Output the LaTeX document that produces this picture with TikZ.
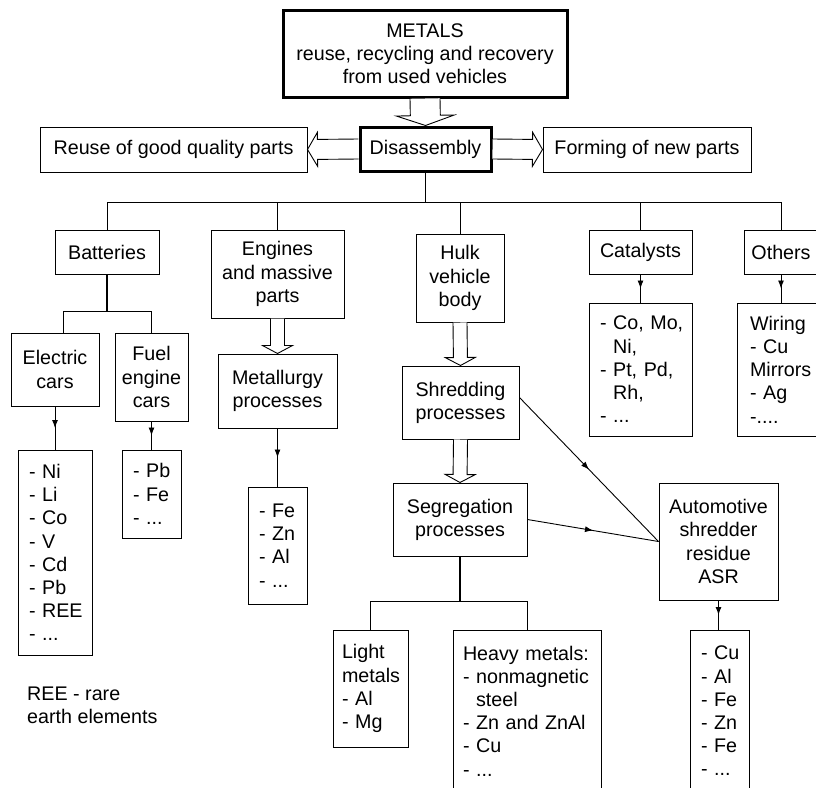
\documentclass[tikz,border=0pt]{standalone}
\usepackage{fontspec}
\setmainfont{Liberation Sans}
\usetikzlibrary{arrows.meta, calc, decorations.markings}
\exhyphenpenalty=10000
\hyphenpenalty=10000

% hollow block arrow: from, to, half shaft, half head, head length
\newcommand{\fatarrow}[5]{%
  \coordinate (fas) at (#1);
  \coordinate (fae) at (#2);
  \coordinate (fab) at ($(fae)!#5pt!(fas)$);
  \draw[fill=white, line width=0.9pt] ($(fas)!#3pt!90:(fae)$) -- ($(fab)!#3pt!-90:(fas)$)
    -- ($(fab)!#4pt!-90:(fas)$) -- (fae) -- ($(fab)!#4pt!90:(fas)$)
    -- ($(fab)!#3pt!90:(fas)$) -- ($(fas)!#3pt!-90:(fae)$);
}

\begin{document}
\begin{tikzpicture}[x=1pt, y=-1pt,
  every node/.style={font=\fontsize{19.7}{23.2}\selectfont},
  box/.style={draw, line width=1pt, align=center, inner sep=0pt},
  thickbox/.style={box, line width=3pt},
  listbox/.style={draw, line width=1pt, align=left, inner xsep=11pt, inner ysep=0pt},
  link/.style={line width=0.9pt},
  stem/.style={line width=1.8pt},
  midarrow/.style={link, postaction={decorate},
    decoration={markings, mark=at position 0.5 with {\arrow{Latex[length=8pt, width=6pt]}}}}]
  \path[use as bounding box, fill=white] (0,0) rectangle (816,787);

  % top
  \node[thickbox, minimum width=284pt, minimum height=87pt] (metals) at (425,53.5) {METALS\\reuse, recycling and recovery\\from used vehicles};
  \node[thickbox, minimum width=131pt, minimum height=44pt] (dis) at (425.5,149) {Disassembly};
  \node[box, minimum width=267pt, minimum height=45pt] (reuse) at (173.5,149.5) {Reuse of good quality parts};
  \node[box, minimum width=208pt, minimum height=45pt] (form) at (647,149.5) {Forming of new parts};

  % main branches
  \node[box, minimum width=104pt, minimum height=44pt] (bat) at (107,252) {Batteries};
  \node[box, minimum width=133pt, minimum height=88pt] (eng) at (277.5,274) {Engines\\and massive\\parts};
  \node[box, minimum width=88pt, minimum height=88pt] (hulk) at (460,278) {Hulk\\vehicle\\body};
  \node[box, minimum width=103pt, minimum height=44pt] (cat) at (640.5,252) {Catalysts};
  \node[box, minimum width=74pt, minimum height=44pt] (oth) at (781,252) {Others};

  \node[listbox, text width=81pt, minimum height=133pt] (catlist) at (640.5,369.5) {\mbox{-}~Co,~Mo,\\\phantom{-~}Ni,\\\mbox{-}~Pt,~Pd,\\\phantom{-~}Rh,\\\mbox{-}~...};
  \node[listbox, inner xsep=13pt, text width=67pt, minimum height=133pt] (othlist) at (783.5,369.5) {Wiring\\\mbox{-}~Cu\\Mirrors\\\mbox{-}~Ag\\-....};

  % batteries
  \node[box, minimum width=88pt, minimum height=73pt] (elec) at (55,369.5) {Electric\\cars};
  \node[box, minimum width=73pt, minimum height=88pt] (fuel) at (151.5,377) {Fuel\\engine\\cars};
  \node[listbox, text width=52pt, minimum height=205pt] (eleclist) at (55,552.5) {\mbox{-}~Ni\\\mbox{-}~Li\\\mbox{-}~Co\\\mbox{-}~V\\\mbox{-}~Cd\\\mbox{-}~Pb\\\mbox{-}~REE\\\mbox{-}~...};
  \node[listbox, text width=37pt, minimum height=88pt] (fuellist) at (151.5,494) {\mbox{-}~Pb\\\mbox{-}~Fe\\\mbox{-}~...};

  % engines
  \node[box, minimum width=119pt, minimum height=74pt] (met) at (277.5,391) {Metallurgy\\processes};
  \node[listbox, text width=37pt, minimum height=117pt] (metlist) at (277.5,545.5) {\mbox{-}~Fe\\\mbox{-}~Zn\\\mbox{-}~Al\\\mbox{-}~...};

  % hulk
  \node[box, minimum width=117pt, minimum height=73pt] (shred) at (460.5,402.5) {Shredding\\processes};
  \node[box, minimum width=134pt, minimum height=73pt] (seg) at (460,519.5) {Segregation\\processes};
  \node[box, minimum width=119pt, minimum height=117pt] (asr) at (718.5,541.5) {Automotive\\shredder\\residue\\ASR};
  \node[listbox, text width=37pt, minimum height=162pt] (asrlist) at (719.5,711) {\mbox{-}~Cu\\\mbox{-}~Al\\\mbox{-}~Fe\\\mbox{-}~Zn\\\mbox{-}~Fe\\\mbox{-}~...};
  \node[listbox, inner xsep=9pt, text width=57pt, minimum height=117pt] (light) at (370.5,688.5) {Light\\metals\\\mbox{-}~Al\\\mbox{-}~Mg};
  \node[listbox, inner xsep=10pt, text width=128pt, minimum height=162pt] (heavy) at (527,711) {Heavy~metals:\\\mbox{-}~nonmagnetic\\\phantom{-~}steel\\\mbox{-}~Zn~and~ZnAl\\\mbox{-}~Cu\\\mbox{-}~...};

  \node[anchor=west, align=left, inner sep=0pt] (ree) at (27,705.5) {REE - rare\\earth elements};

  % block arrows
  \fatarrow{metals.south}{dis.north}{15}{29}{10}
  \fatarrow{dis.west}{reuse.east}{10}{17}{10}
  \fatarrow{dis.east}{form.west}{10}{17}{10}
  \fatarrow{eng.south}{met.north}{7}{15}{8}
  \fatarrow{hulk.south}{shred.north}{7}{15}{8}
  \fatarrow{shred.south}{seg.north}{7}{15}{8}

  % tree lines
  \coordinate (bus) at ($(dis.south)+(0,30)$);
  \draw[stem] (dis.south) -- (bus);
  \draw[link] (bat.north) |- (bus) -| (oth.north);
  \foreach \n in {eng, hulk, cat}
    \draw[link] (\n.north) -- (\n.north |- bus);

  \coordinate (batbus) at ($(bat.south)+(0,37)$);
  \draw[stem] (bat.south) -- (batbus);
  \draw[link] ([xshift=8pt]elec.north) |- (batbus) -| (fuel.north);

  \coordinate (segbus) at ($(seg.south)+(0,45)$);
  \draw[stem] (seg.south) -- (segbus);
  \draw[link] (light.north) |- (segbus) -| (heavy.north);

  % small arrows
  \draw[midarrow] (elec.south) -- (eleclist.north);
  \draw[midarrow] (fuel.south) -- (fuellist.north);
  \draw[midarrow] (met.south) -- (metlist.north);
  \draw[midarrow] (cat.south) -- (catlist.north);
  \draw[midarrow] (oth.south) -- (oth.south |- othlist.north);
  \draw[midarrow] (asr.south) -- (asr.south |- asrlist.north);
  \draw[midarrow] ([yshift=5pt]shred.east) -- (asr.west);
  \draw[midarrow] (seg.east) -- (asr.west);
\end{tikzpicture}
\end{document}
